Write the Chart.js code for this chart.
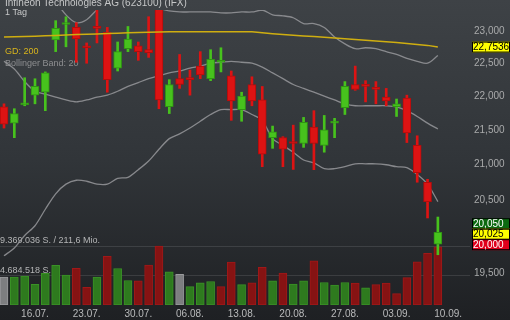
<!DOCTYPE html>
<html>
<head>
<meta charset="utf-8">
<script src="https://cdn.jsdelivr.net/npm/chart.js@4.4.1/dist/chart.umd.min.js"></script>
<style>
  html, body { margin: 0; padding: 0; }
  body {
    width: 510px;
    height: 320px;
    overflow: hidden;
    background: linear-gradient(to bottom, #3e4246 0%, #313539 50%, #1e2023 100%);
  }
  #wrap { position: relative; width: 510px; height: 320px; }
</style>
</head>
<body>
<div id="wrap"><canvas id="chart"></canvas></div>
<script>
// trading days (the last one has no candle yet, only the axis label)
const days = [
  "11.07.", "12.07.", "13.07.", "16.07.", "17.07.", "18.07.", "19.07.", "20.07.",
  "23.07.", "24.07.", "25.07.", "26.07.", "27.07.", "30.07.", "31.07.", "01.08.",
  "02.08.", "03.08.", "06.08.", "07.08.", "08.08.", "09.08.", "10.08.", "13.08.",
  "14.08.", "15.08.", "16.08.", "17.08.", "20.08.", "21.08.", "22.08.", "23.08.",
  "24.08.", "27.08.", "28.08.", "29.08.", "30.08.", "31.08.", "03.09.", "04.09.",
  "05.09.", "06.09.", "07.09.", "10.09.",
];
const weekLabels = ["16.07.", "23.07.", "30.07.", "06.08.", "13.08.", "20.08.", "27.08.", "03.09.", "10.09."];

// daily OHLC in EUR
const open = [
  21.845, 21.602, 21.874, 22.019, 22.063, 22.864, 23.107, 23.061, 22.758, 23.061,
  22.985, 22.430, 22.728, 22.773, 22.713, 23.384, 21.845, 22.268, 22.268, 22.460,
  22.268, 22.519, 22.312, 21.802, 22.180, 21.947, 21.389, 21.389, 21.318, 21.304,
  21.545, 21.276, 21.602, 21.831, 22.180, 22.165, 22.121, 21.990, 21.845, 21.976,
  21.276, 20.748, 19.890,
];
const high = [
  21.889, 21.816, 22.282, 22.267, 22.371, 23.168, 23.230, 23.137, 22.818, 23.368,
  23.061, 22.833, 23.076, 22.833, 23.230, 23.430, 22.253, 22.639, 22.400, 22.683,
  22.713, 22.743, 22.385, 22.063, 22.297, 22.150, 21.559, 21.403, 21.573, 21.687,
  21.787, 21.716, 21.673, 22.224, 22.460, 22.238, 22.224, 22.121, 21.961, 22.019,
  21.417, 20.790, 20.261,
];
const low = [
  21.530, 21.389, 21.860, 21.889, 21.787, 22.683, 22.758, 22.519, 22.504, 22.818,
  22.063, 22.385, 22.683, 22.549, 22.594, 21.816, 21.744, 22.121, 22.019, 22.268,
  22.238, 22.371, 21.644, 21.630, 21.860, 20.969, 21.234, 20.969, 20.930, 21.248,
  20.927, 21.178, 21.389, 21.730, 22.092, 21.918, 21.889, 21.860, 21.701, 21.318,
  20.748, 20.248, 19.746,
];
const close = [
  21.588, 21.744, 21.903, 22.151, 22.356, 23.046, 23.137, 22.879, 22.743, 23.046,
  22.253, 22.683, 22.879, 22.683, 22.668, 21.947, 22.180, 22.180, 22.253, 22.327,
  22.564, 22.549, 21.932, 22.004, 21.932, 21.150, 21.474, 21.220, 21.304, 21.616,
  21.304, 21.502, 21.630, 22.151, 22.107, 22.151, 22.107, 21.932, 21.889, 21.460,
  20.885, 20.476, 20.050,
];

// volume in shares
const volume = [
  4450000, 4450000, 4610000, 3270000, 5020000, 6300000, 4760000, 5840000, 2810000, 4450000,
  7730000, 5790000, 3890000, 3840000, 6340000, 9369036, 5270000, 4870000, 2920000, 3530000,
  3730000, 2920000, 6800000, 3230000, 3530000, 5990000, 3840000, 5070000, 3330000, 3840000,
  7020000, 3580000, 3180000, 3580000, 3490000, 2720000, 3230000, 3490000, 1800000, 4350000,
  6870000, 8190000, 9220000,
];
const volumeTicks = [4684518, 9369036];
const maxTurnover = "211,6 Mio.";

// Bollinger band (20) and 200-day line
const bbUpper = [
  25.732, 25.328, 24.684, 24.200, 23.835, 23.491, 23.260, 23.137, 23.183, 23.337,
  23.399, 23.430, 23.569, 23.569, 23.460, 23.368, 23.322, 23.306, 23.306, 23.306,
  23.306, 23.291, 23.291, 23.306, 23.306, 23.337, 23.260, 23.245, 23.214, 23.122,
  23.122, 23.061, 22.909, 22.803, 22.728, 22.743, 22.728, 22.683, 22.639, 22.579,
  22.534, 22.504, 22.624,
];
const bbMiddle = [
  22.534, 22.415, 22.224, 22.078, 22.034, 21.990, 21.947, 21.918, 21.947, 21.990,
  22.019, 22.078, 22.151, 22.209, 22.268, 22.312, 22.356, 22.386, 22.430, 22.460,
  22.504, 22.519, 22.534, 22.519, 22.504, 22.445, 22.356, 22.268, 22.180, 22.121,
  22.063, 22.004, 21.947, 21.889, 21.860, 21.860, 21.860, 21.860, 21.845, 21.787,
  21.701, 21.602, 21.516,
];
const bbLower = [
  19.733, 19.837, 20.008, 20.141, 20.369, 20.585, 20.721, 20.776, 20.762, 20.721,
  20.721, 20.803, 20.817, 20.927, 21.052, 21.220, 21.375, 21.445, 21.530, 21.630,
  21.730, 21.802, 21.802, 21.802, 21.730, 21.644, 21.375, 21.276, 21.178, 21.066,
  21.025, 20.941, 20.941, 20.969, 21.011, 21.011, 21.011, 20.997, 20.969, 20.955,
  20.858, 20.721, 20.476,
];
const gd200 = [
  22.909, 22.914, 22.920, 22.924, 22.930, 22.936, 22.942, 22.948, 22.954, 22.959,
  22.965, 22.970, 22.976, 22.980, 22.985, 22.989, 22.992, 22.992, 22.992, 22.992,
  22.992, 22.992, 22.992, 22.992, 22.992, 22.977, 22.962, 22.950, 22.939, 22.927,
  22.917, 22.906, 22.894, 22.882, 22.870, 22.859, 22.848, 22.836, 22.824, 22.810,
  22.795, 22.780, 22.7536,
];

const priceTicks = [19.5, 20, 20.5, 21, 21.5, 22, 22.5, 23];
// quote boxes on the right: bid / last / ask
const quotes = [20.05, 20.025, 20.0];
const quoteColors = [["#0c6a10", "#fff"], ["#ffff00", "#000"], ["#e0001b", "#fff"]];

const GREEN = "#47c21d";
const GREEN_EDGE = "#2f9513";
const RED = "#dd1313";
const RED_EDGE = "#b40c0c";
const FONT = "'Liberation Sans', Arial, sans-serif";

const deNum = (v, d) => v.toFixed(d).replace(".", ",");
const deInt = (v) => String(Math.round(v)).replace(/\B(?=(\d{3})+(?!\d))/g, ".");

const up = close.map((c, i) => c >= open[i]);
const candleFill = up.map((u) => (u ? GREEN : RED));
const candleEdge = up.map((u) => (u ? GREEN_EDGE : RED_EDGE));
const volFill = close.map((c, i) =>
  i === 0 || c === close[i - 1] ? "#7d7e80" : c > close[i - 1] ? "#2e7a1e" : "#861313"
);
const volEdge = close.map((c, i) =>
  i === 0 || c === close[i - 1] ? "#9a9b9d" : c > close[i - 1] ? "#3a9226" : "#a01818"
);

const series = (arr) => arr.map((v, i) => ({ x: i, y: v }));

// texts and quote boxes that are not part of the axes
const overlay = {
  id: "overlay",
  beforeDatasetsDraw(chart) {
    const ctx = chart.ctx;
    ctx.save();
    ctx.textAlign = "left";
    ctx.textBaseline = "alphabetic";
    ctx.fillStyle = "#c6c7c8";
    ctx.font = "10px " + FONT;
    ctx.fillText("Infineon Technologies AG (623100) (IFX)", 5, 6);
    ctx.font = "9px " + FONT;
    ctx.fillText("1 Tag", 5, 15);
    ctx.fillStyle = "#d8b41c";
    ctx.fillText("GD: 200", 5, 54);
    ctx.fillStyle = "#8d8e90";
    ctx.fillText("Bollinger Band: 20", 5, 66);
    ctx.restore();
  },
  afterDraw(chart) {
    const ctx = chart.ctx;
    const y = chart.scales.y;
    const left = chart.chartArea.right + 2;
    const box = (py, text, bg, fg) => {
      ctx.fillStyle = bg;
      ctx.fillRect(left, py - 5.5, 510 - left, 11);
      ctx.strokeStyle = "#000";
      ctx.lineWidth = 1;
      ctx.strokeRect(left + 0.5, py - 5, 510 - left - 1, 10);
      ctx.fillStyle = fg;
      ctx.fillText(text, left + 1, py + 0.5);
    };
    ctx.save();
    ctx.font = "10px " + FONT;
    ctx.textAlign = "left";
    ctx.textBaseline = "middle";
    box(y.getPixelForValue(gd200[gd200.length - 1]), deNum(gd200[gd200.length - 1], 4), "#ffff00", "#000");
    // stack the quote boxes around the middle quote so they do not overlap
    const mid = y.getPixelForValue(quotes[1]);
    quotes.forEach((q, k) => box(mid + (k - 1) * 10.5, deNum(q, 3), quoteColors[k][0], quoteColors[k][1]));
    ctx.restore();
  },
};

const ctx = document.getElementById("chart").getContext("2d");
new Chart(ctx, {
  type: "bar",
  data: {
    datasets: [
      {
        type: "line",
        data: series(gd200),
        yAxisID: "y",
        borderColor: "#cfae10",
        borderWidth: 1.5,
        pointRadius: 0,
        order: 0,
      },
      ...[bbUpper, bbMiddle, bbLower].map((band) => ({
        type: "line",
        data: series(band),
        yAxisID: "y",
        borderColor: "rgba(150,152,155,0.85)",
        borderWidth: 1.3,
        pointRadius: 0,
        tension: 0.3,
        order: 3,
      })),
      {
        // candle bodies
        data: open.map((o, i) => ({ x: i, y: [o, close[i]] })),
        yAxisID: "y",
        backgroundColor: candleFill,
        borderColor: candleEdge,
        borderWidth: 1,
        borderSkipped: false,
        barThickness: 8,
        minBarLength: 2,
        grouped: false,
        order: 1,
      },
      {
        // wicks
        data: low.map((l, i) => ({ x: i, y: [l, high[i]] })),
        yAxisID: "y",
        backgroundColor: candleFill,
        borderWidth: 0,
        barThickness: 2,
        grouped: false,
        order: 2,
      },
      {
        data: series(volume),
        yAxisID: "y2",
        backgroundColor: volFill,
        borderColor: volEdge,
        borderWidth: 1,
        borderSkipped: false,
        barThickness: 8,
        grouped: false,
        order: 5,
      },
    ],
  },
  options: {
    responsive: true,
    maintainAspectRatio: false,
    animation: false,
    layout: { padding: 0 },
    plugins: { legend: { display: false }, tooltip: { enabled: false } },
    scales: {
      x: {
        type: "linear",
        offset: false,
        min: -0.387,
        max: 45.11,
        grid: { display: false, drawTicks: false, offset: false },
        border: { display: false },
        afterBuildTicks: (scale) => {
          scale.ticks = weekLabels.map((d) => ({ value: days.indexOf(d) }));
        },
        afterFit: (scale) => {
          scale.height = 15;
        },
        ticks: {
          autoSkip: false,
          maxRotation: 0,
          padding: 3,
          color: "#b9babb",
          font: { family: FONT, size: 10 },
          callback: (v) => days[v],
        },
      },
      y: {
        type: "logarithmic",
        position: "right",
        min: 19.08,
        max: 23.337,
        grid: { display: false, drawTicks: false },
        border: { display: false },
        afterBuildTicks: (scale) => {
          scale.ticks = priceTicks.map((v) => ({ value: v }));
        },
        afterFit: (scale) => {
          scale.width = 40;
        },
        ticks: {
          padding: 4,
          color: "#a9aaab",
          font: { family: FONT, size: 10 },
          callback: (v) => deNum(v, 3),
        },
      },
      y2: {
        type: "linear",
        position: "left",
        min: 0,
        max: 46845180,
        grid: { color: "rgba(255,255,255,0.11)", drawTicks: false },
        border: { display: false },
        afterBuildTicks: (scale) => {
          scale.ticks = volumeTicks.map((v) => ({ value: v }));
        },
        afterFit: (scale) => {
          scale.width = 0;
        },
        ticks: {
          mirror: true,
          padding: 0,
          labelOffset: -5,
          color: "#b4b5b6",
          font: { family: FONT, size: 9 },
          callback: (v) =>
            v === volumeTicks[1] ? deInt(v) + " S. / " + maxTurnover : deInt(v) + " S.",
        },
      },
    },
  },
  plugins: [overlay],
});
</script>
</body>
</html>
